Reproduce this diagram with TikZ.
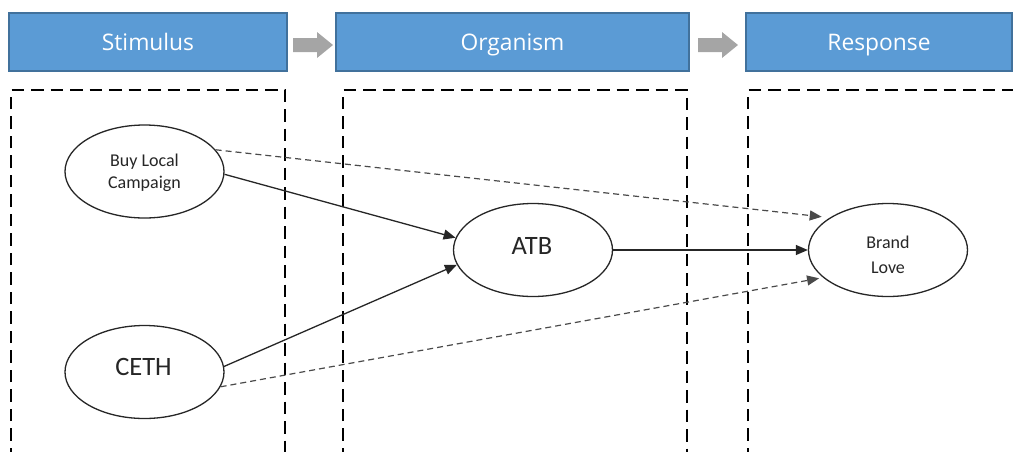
\documentclass[tikz,border=0pt]{standalone}
\usepackage{fontspec}
\setmainfont{Carlito}
\newfontfamily\hdrfont{Open Sans}
\usetikzlibrary{shapes.geometric,arrows.meta}
\definecolor{hdrfill}{HTML}{5B9BD5}
\definecolor{hdrline}{HTML}{41719C}
\definecolor{arrgray}{HTML}{A5A5A5}
\definecolor{inkc}{HTML}{262626}
\definecolor{dashgray}{HTML}{4A4A4A}
\tikzset{
  hdr/.style={draw=hdrline, line width=1.5pt, fill=hdrfill, inner sep=0pt,
    minimum height=58pt, text=white, font=\hdrfont\fontsize{22.8}{27}\selectfont,
    text height=17.4pt, text depth=0pt},
  blockarrow/.style={fill=arrgray, draw=none},
  zone/.style={draw=black, line width=2.3pt, dash pattern=on 12.5pt off 7pt},
  ell/.style={ellipse, draw=inkc, line width=1.3pt, fill=white, inner sep=0pt,
    minimum width=159pt, minimum height=93pt},
  bigtxt/.style={inner sep=0pt, anchor=base, text=inkc, font=\fontsize{26.5}{30}\selectfont},
  smalltxt/.style={inner sep=0pt, anchor=base, text=inkc, font=\fontsize{18}{22}\selectfont},
  solidc/.style={draw=inkc, line width=1.3pt, -{Triangle[length=12pt,width=10pt]}},
  dashc/.style={draw=dashgray, line width=1.2pt, dash pattern=on 6pt off 4pt,
    -{Triangle[length=12pt,width=10pt]}}
}
\begin{document}
\begin{tikzpicture}[x=1pt,y=-1pt]
\useasboundingbox (0,0) rectangle (1013,451);

% header boxes
\node[hdr, minimum width=278pt] (stim) at (148,42) {Stimulus};
\node[hdr, minimum width=353pt] (orga) at (512.5,42) {Organism};
\node[hdr, minimum width=266pt] (resp) at (879,42) {Response};

% gray block arrows
\path[blockarrow] (293,38) -- (317,38) -- (317,32) -- (333,45) -- (317,58) -- (317,52) -- (293,52) -- cycle;
\path[blockarrow] (698,38) -- (722,38) -- (722,32) -- (738,45) -- (722,58) -- (722,52) -- (698,52) -- cycle;

% dashed zones
\draw[zone] (11,460) -- (11,90) -- (285,90) -- (285,460);
\draw[zone] (343,460) -- (343,90) -- (687,90) -- (687,460);
\draw[zone] (748,460) -- (748,90) -- (1020,90);

% ellipses
\node[ell] (buy) at (144.5,171.5) {};
\node[ell] (ceth) at (144.5,372) {};
\node[ell] (atb) at (533,250) {};
\node[ell] (brand) at (888,250) {};

% texts
\node[smalltxt] (buy1) at (144.5,166) {Buy Local};
\node[smalltxt] (buy2) at (144.5,188.5) {Campaign};
\node[bigtxt] (cetht) at (143.5,375) {CETH};
\node[bigtxt] (atbt) at (532,254) {ATB};
\node[smalltxt] (brand1) at (888,248.3) {Brand};
\node[smalltxt] (brand2) at (888,273.3) {Love};

% connectors
\draw[solidc] (buy.-2.5) -- (atb.171);
\draw[solidc] (ceth.4) -- (atb.191);
\draw[solidc] (atb.east) -- (brand.west);
\draw[dashc, shorten >=8pt] (buy.17) -- (brand.151.5);
\draw[dashc, shorten >=4pt] (ceth.-11) -- (brand.203);
\end{tikzpicture}
\end{document}
